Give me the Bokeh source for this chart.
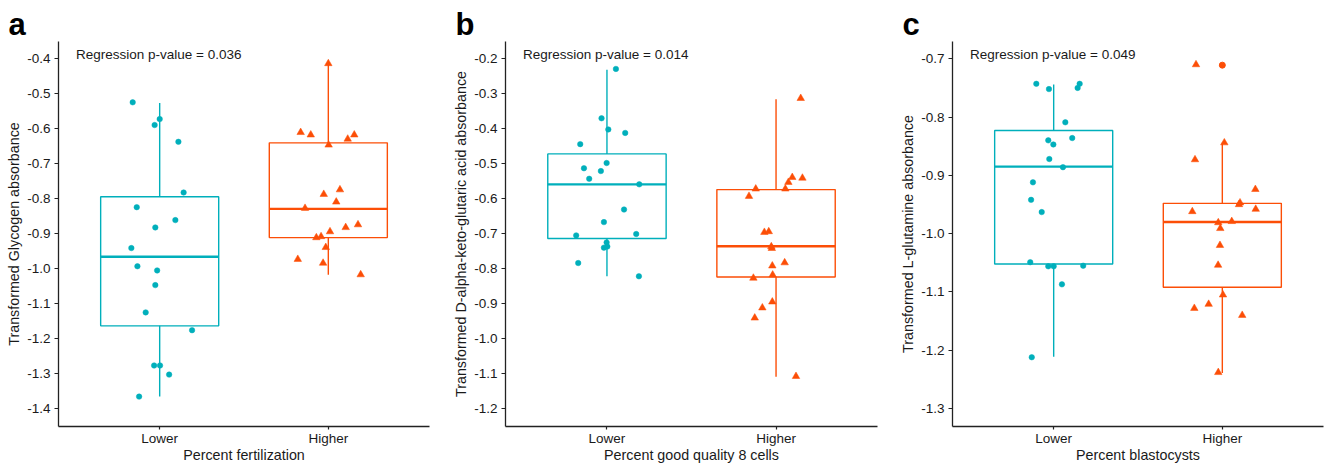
from bokeh.plotting import figure
from bokeh.layouts import row
from bokeh.models import FixedTicker, Label, Range1d
from bokeh.embed import file_html
from bokeh.resources import INLINE

# ---------------- data ----------------
groups = ["Lower", "Higher"]
panel_letters = ["a", "b", "c"]
x_titles = ["Percent fertilization", "Percent good quality 8 cells", "Percent blastocysts"]
y_titles = ["Transformed Glycogen absorbance",
            "Transformed D-alpha-keto-glutaric acid absorbance",
            "Transformed L-glutamine absorbance"]
p_values = ["0.036", "0.014", "0.049"]

a_lower_y = [-0.524, -0.572, -0.589, -0.637, -0.782, -0.824, -0.861, -0.882, -0.941, -0.993,
             -1.005, -1.047, -1.125, -1.176, -1.277, -1.277, -1.303, -1.366]
a_lower_jit = [-0.160, 0.000, -0.030, 0.111, 0.142, -0.136, 0.093, -0.026, -0.168, -0.132,
               -0.015, -0.026, -0.083, 0.192, -0.033, 0.002, 0.056, -0.122]
a_higher_y = [-0.413, -0.610, -0.617, -0.617, -0.629, -0.646, -0.774, -0.787, -0.809, -0.827,
              -0.874, -0.882, -0.894, -0.911, -0.908, -0.939, -0.973, -0.984, -1.017]
a_higher_jit = [0.000, -0.164, -0.104, 0.154, 0.115, 0.002, 0.069, -0.027, 0.047, -0.138,
                0.176, 0.103, 0.010, -0.071, -0.043, -0.015, -0.181, -0.031, 0.192]
# box stats: [whisker low, q1, median, q3, whisker high] for Lower, Higher
a_box = [[-1.366, -1.1635, -0.966, -0.794, -0.526],
         [-1.017, -0.911, -0.829, -0.640, -0.411]]
a_outliers = [[], []]

b_lower_y = [-0.229, -0.370, -0.402, -0.412, -0.444, -0.498, -0.513, -0.521, -0.543, -0.559,
             -0.631, -0.667, -0.705, -0.701, -0.725, -0.740, -0.737, -0.784, -0.822]
b_lower_jit = [0.053, -0.032, 0.008, 0.108, -0.158, -0.002, -0.136, -0.036, -0.105, 0.191,
               0.101, -0.018, -0.182, 0.173, -0.002, -0.018, 0.002, -0.170, 0.189]
b_higher_y = [-0.313, -0.539, -0.541, -0.553, -0.572, -0.572, -0.593, -0.696, -0.694, -0.737,
              -0.742, -0.783, -0.792, -0.827, -0.818, -0.895, -0.912, -0.941, -1.108]
b_higher_jit = [0.146, 0.096, 0.156, 0.073, -0.120, 0.055, -0.160, -0.069, -0.043, -0.028,
                -0.025, 0.051, -0.022, -0.134, -0.020, -0.022, -0.081, -0.126, 0.118]
b_box = [[-0.822, -0.714, -0.559, -0.472, -0.231],
         [-1.109, -0.824, -0.736, -0.574, -0.316]]
b_outliers = [[], []]

c_lower_y = [-0.743, -0.752, -0.750, -0.743, -0.809, -0.840, -0.836, -0.847, -0.872, -0.886,
             -0.912, -0.942, -0.963, -1.049, -1.056, -1.056, -1.055, -1.087, -1.212]
c_lower_jit = [-0.103, -0.028, 0.142, 0.154, 0.069, -0.032, 0.110, -0.002, -0.026, 0.055,
               -0.123, -0.134, -0.071, -0.139, -0.032, 0.000, 0.175, 0.049, -0.130]
c_higher_y = [-0.710, -0.844, -0.873, -0.924, -0.947, -0.950, -0.958, -0.962, -0.981, -0.979,
              -0.991, -1.020, -1.054, -1.105, -1.128, -1.121, -1.140, -1.238]
c_higher_jit = [-0.156, 0.012, -0.162, 0.196, 0.105, 0.099, 0.198, -0.178, -0.024, 0.056,
                -0.012, -0.014, -0.025, 0.004, -0.166, -0.081, 0.118, -0.024]
c_box = [[-1.211, -1.052, -0.885, -0.823, -0.744],
         [-1.239, -1.092, -0.980, -0.948, -0.844]]
c_outliers = [[], [-0.711]]

a_yticks = [-1.4, -1.3, -1.2, -1.1, -1.0, -0.9, -0.8, -0.7, -0.6, -0.5, -0.4]
b_yticks = [-1.2, -1.1, -1.0, -0.9, -0.8, -0.7, -0.6, -0.5, -0.4, -0.3, -0.2]
c_yticks = [-1.3, -1.2, -1.1, -1.0, -0.9, -0.8, -0.7]
a_yrange = (-1.4515, -0.350)
b_yrange = (-1.2515, -0.1505)
c_yrange = (-1.3308, -0.6704)

# ---------------- style ----------------
COLORS = ["#00AFBB", "#FC4E07"]
MARKERS = ["circle", "triangle"]
SIZES = [5.5, 7.5]
FONT = "Liberation Sans"
TXT = "#1a1a1a"
BOX_W = 0.35


def make_panel(letter, xt, yt, pv, lows, lowj, highs, highj, box, outl, yticks, yr,
               width, bl, br):
    p = figure(width=width, height=465, output_backend="svg", toolbar_location=None,
               x_range=Range1d(0.4, 2.6), y_range=Range1d(*yr),
               min_border_left=bl, min_border_right=br, min_border_top=41, min_border_bottom=39)
    p.outline_line_color = None
    p.xgrid.visible = False
    p.ygrid.visible = False
    p.background_fill_color = "white"
    p.border_fill_color = "white"

    p.title.text = letter
    p.title.text_font = FONT
    p.title.text_font_size = "31px"
    p.title.text_font_style = "bold"
    p.title.text_color = "black"
    p.title.align = "left"
    p.title.offset = -50
    p.title.standoff = 0

    for ax in (p.xaxis[0], p.yaxis[0]):
        ax.axis_line_color = "#222222"
        ax.axis_line_width = 1.3
        ax.major_tick_line_color = "#222222"
        ax.major_tick_line_width = 1.2
        ax.major_tick_out = 4
        ax.major_tick_in = 0
        ax.minor_tick_line_color = None
        ax.major_label_text_font = FONT
        ax.major_label_text_font_size = "13.5px"
        ax.major_label_text_color = TXT
        ax.axis_label_text_font = FONT
        ax.axis_label_text_font_size = "14.3px"
        ax.axis_label_text_font_style = "normal"
        ax.axis_label_text_color = TXT

    p.xaxis.ticker = FixedTicker(ticks=[1, 2])
    p.xaxis.major_label_overrides = {1: groups[0], 2: groups[1]}
    p.xaxis.axis_label = xt
    p.xaxis.major_tick_out = 3
    p.xaxis.major_label_standoff = 1
    p.xaxis.axis_label_standoff = -2
    p.xaxis.major_label_text_line_height = 1.0
    p.xaxis.axis_label_text_line_height = 1.0

    p.yaxis.ticker = FixedTicker(ticks=yticks)
    p.yaxis.major_label_overrides = {t: "%.1f" % t for t in yticks}
    p.yaxis.axis_label = yt
    p.yaxis.major_label_standoff = 4
    p.yaxis.axis_label_standoff = 2

    # boxes
    for i, (st, col) in enumerate(zip(box, COLORS)):
        xc = i + 1
        lo, q1, med, q3, hi = st
        p.segment(x0=[xc, xc], y0=[lo, q3], x1=[xc, xc], y1=[q1, hi],
                  line_color=col, line_width=1.4)
        p.quad(left=[xc - BOX_W], right=[xc + BOX_W], bottom=[q1], top=[q3],
               fill_color=None, line_color=col, line_width=1.4)
        p.segment(x0=[xc - BOX_W], y0=[med], x1=[xc + BOX_W], y1=[med],
                  line_color=col, line_width=2.4)
        if outl[i]:
            p.scatter(x=[xc] * len(outl[i]), y=outl[i], marker="circle", size=6,
                      fill_color=col, line_color=col)

    # points
    for i, (ys, js) in enumerate(((lows, lowj), (highs, highj))):
        xs = [i + 1 + j for j in js]
        p.scatter(x=xs, y=ys, marker=MARKERS[i], size=SIZES[i],
                  fill_color=COLORS[i], line_color=COLORS[i], line_width=0.5)

    p.add_layout(Label(x=0.4, y=yr[1], x_offset=17.5, y_offset=-12.5,
                       text="Regression p-value = " + pv, text_font=FONT,
                       text_font_size="13.5px", text_color=TXT, text_baseline="middle"))
    return p


pa = make_panel(panel_letters[0], x_titles[0], y_titles[0], p_values[0],
                a_lower_y, a_lower_jit, a_higher_y, a_higher_jit, a_box, a_outliers,
                a_yticks, a_yrange, 445, 58, 16)
pb = make_panel(panel_letters[1], x_titles[1], y_titles[1], p_values[1],
                b_lower_y, b_lower_jit, b_higher_y, b_higher_jit, b_box, b_outliers,
                b_yticks, b_yrange, 445, 60, 13)
pc = make_panel(panel_letters[2], x_titles[2], y_titles[2], p_values[2],
                c_lower_y, c_lower_jit, c_higher_y, c_higher_jit, c_box, c_outliers,
                c_yticks, c_yrange, 441, 62, 8)

layout = row(pa, pb, pc, spacing=0)
open("out.html", "w").write(file_html(layout, INLINE))
